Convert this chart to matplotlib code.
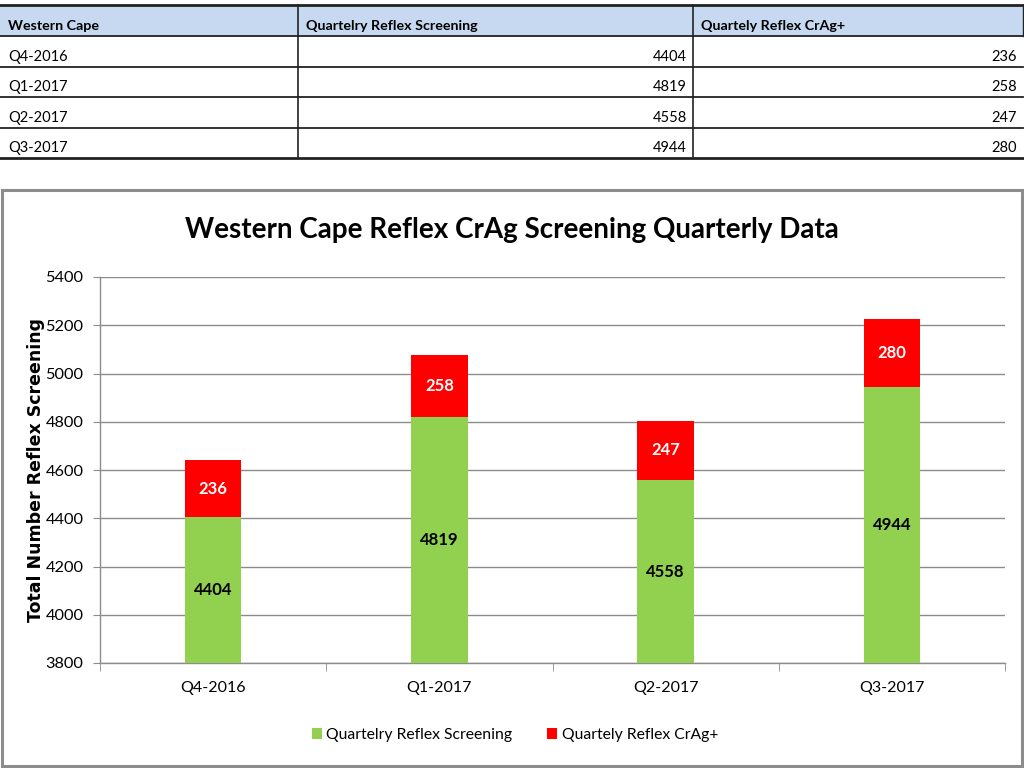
import matplotlib
matplotlib.use("Agg")
import matplotlib.pyplot as plt
from matplotlib.patches import Rectangle
from matplotlib.lines import Line2D

plt.rcParams['font.family'] = ['Lato', 'DejaVu Sans']

quarters = ["Q4-2016", "Q1-2017", "Q2-2017", "Q3-2017"]
screening = [4404, 4819, 4558, 4944]
crag_pos = [236, 258, 247, 280]
table_headers = ["Western Cape", "Quartelry Reflex Screening", "Quartely Reflex CrAg+"]
chart_title = "Western Cape Reflex CrAg Screening Quarterly Data"
y_label = "Total Number Reflex Screening"
y_ticks = [3800, 4000, 4200, 4400, 4600, 4800, 5000, 5200, 5400]

W, H = 1024, 768
fig = plt.figure(figsize=(10.24, 7.68), dpi=100)

# ---------- table (pixel-coordinate overlay) ----------
tax = fig.add_axes([0, 0, 1, 1])
tax.set_xlim(0, W)
tax.set_ylim(H, 0)
tax.axis('off')

col_x = [0, 298, 693, 1023]
row_y = [5, 36, 67, 97, 128, 158]
tax.add_patch(Rectangle((col_x[0], row_y[0]), col_x[-1] - col_x[0], row_y[1] - row_y[0],
                        facecolor="#C6D9F1", edgecolor="none"))
for y in row_y:
    lw = 2 if y in (row_y[0], row_y[-1]) else 1.3
    tax.add_line(Line2D([col_x[0], col_x[-1]], [y, y], color="#222222", lw=lw))
for x in col_x[1:3]:
    tax.add_line(Line2D([x, x], [row_y[0], row_y[-1]], color="#222222", lw=1.2))
tax.add_line(Line2D([col_x[-1], col_x[-1]], [row_y[0], row_y[1]], color="#222222", lw=1))

for i, h in enumerate(table_headers):
    tax.text(col_x[i] + 8, row_y[1] - 4, h, fontsize=10.3, fontweight='bold',
             ha='left', va='bottom', color='black')
rows = list(zip(quarters, screening, crag_pos))
for r, (q, s, c) in enumerate(rows):
    yb = row_y[r + 2] - 3
    tax.text(col_x[0] + 8, yb, q, fontsize=10.5, ha='left', va='bottom')
    tax.text(col_x[2] - 6, yb, str(s), fontsize=10.5, ha='right', va='bottom')
    tax.text(col_x[3] - 6, yb, str(c), fontsize=10.5, ha='right', va='bottom')

# chart frame
tax.add_patch(Rectangle((2, 190), 1020, 576, facecolor='none', edgecolor='#8C8C8C', lw=2.2))

# title
tax.text(512, 230, chart_title, fontsize=20, fontweight='bold', ha='center', va='center')
# y label
tax.text(36, 470, y_label, fontsize=12.5, fontweight='bold', rotation=90,
         ha='center', va='center', family='DejaVu Sans')

# ---------- chart ----------
ax = fig.add_axes([100 / W, 1 - 663 / H, 905 / W, (663 - 277) / H])
x = list(range(len(quarters)))
green = "#92D050"
red = "#FF0000"
bw = 0.25
b1 = ax.bar(x, [s - 3800 for s in screening], bottom=3800, width=bw, color=green,
            label="Quartelry Reflex Screening", zorder=3)
b2 = ax.bar(x, crag_pos, bottom=screening, width=bw, color=red,
            label="Quartely Reflex CrAg+", zorder=3)
for i in x:
    ax.text(i, (3800 + screening[i]) / 2, str(screening[i]), ha='center', va='center',
            fontsize=12, fontweight='bold', zorder=4)
    ax.text(i, screening[i] + crag_pos[i] / 2, str(crag_pos[i]), ha='center', va='center',
            fontsize=12, fontweight='bold', color='white', zorder=4)

ax.set_xlim(-0.5, len(quarters) - 0.5)
ax.set_ylim(3800, 5400)
ax.set_yticks(y_ticks)
ax.set_yticklabels([str(t) for t in y_ticks], fontsize=11.8)
ax.yaxis.grid(True, color='#8C8C8C', lw=1, zorder=0)
ax.set_xticks(x)
ax.set_xticklabels(quarters, fontsize=11.5)
ax.tick_params(axis='x', length=0, pad=13)
ax.set_xticks([i - 0.5 for i in range(len(quarters) + 1)], minor=True)
ax.tick_params(axis='x', which='minor', length=6, color='#8C8C8C', direction='out')
ax.tick_params(axis='y', length=5, color='#8C8C8C', direction='out', pad=7)
for s in ['top', 'right']:
    ax.spines[s].set_visible(False)
for s in ['left', 'bottom']:
    ax.spines[s].set_color('#8C8C8C')
    ax.spines[s].set_linewidth(1)

fig.legend(handles=[b1, b2], loc='center', bbox_to_anchor=(515 / W, 1 - 735 / H), ncol=2,
           frameon=False, fontsize=11.3, handlelength=0.65, handleheight=0.65,
           handletextpad=0.3, columnspacing=2.2)

fig.savefig("out.png", dpi=100)
